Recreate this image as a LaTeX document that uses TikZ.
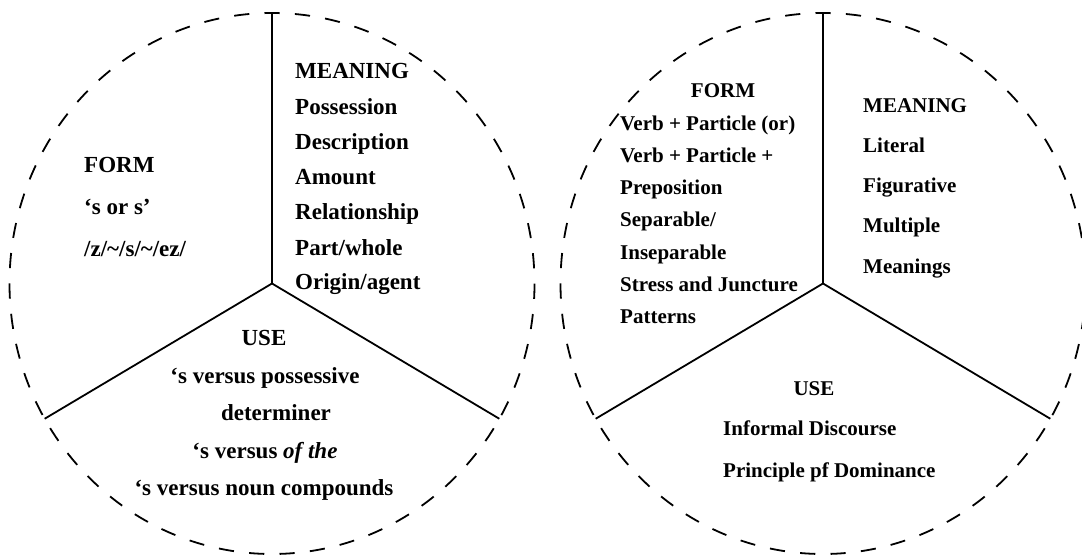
\documentclass[tikz,border=0pt]{standalone}
\usepackage{fontspec}
\setmainfont{Liberation Serif}
\usetikzlibrary{calc}
\begin{document}
\begin{tikzpicture}[x=1pt,y=-1pt,
  ring/.style={line width=1.8pt, dash pattern=on 15.2pt off 15.25pt, dash phase=15.3pt},
  spoke/.style={line width=1.8pt},
  lt/.style={font=\fontsize{23}{23}\selectfont\bfseries, inner sep=0pt, anchor=base west},
  lc/.style={font=\fontsize{23}{23}\selectfont\bfseries, inner sep=0pt, anchor=base},
  rt/.style={font=\fontsize{21}{21}\selectfont\bfseries, inner sep=0pt, anchor=base west},
  rc/.style={font=\fontsize{21}{21}\selectfont\bfseries, inner sep=0pt, anchor=base}]
\useasboundingbox (0,0) rectangle (1082,556);
% left diagram
\coordinate (Lc) at (272,283.5);
\coordinate (Lt) at ($(Lc)+(90:262.5pt and 270.5pt)$);
\coordinate (Ll) at ($(Lc)+(210:262.5pt and 270.5pt)$);
\coordinate (Lr) at ($(Lc)+(330:262.5pt and 270.5pt)$);
\draw[ring] (Lc) ellipse [x radius=262.5pt, y radius=270.5pt];
\draw[spoke] (Lc) -- (Lt);
\draw[spoke] (Lc) -- (Ll);
\draw[spoke] (Lc) -- (Lr);
\node[lt] (lf1) at (84,173) {FORM};
\node[lt] (lf2) at (84,215) {‘s or s’};
\node[lt] (lf3) at (84,257) {/z/\textasciitilde/s/\textasciitilde/ez/};
\node[lt] (lm1) at (295,79) {MEANING};
\node[lt] (lm2) at (295,115) {Possession};
\node[lt] (lm3) at (295,150) {Description};
\node[lt] (lm4) at (295,185) {Amount};
\node[lt] (lm5) at (295,220) {Relationship};
\node[lt] (lm6) at (295,255) {Part/whole};
\node[lt] (lm7) at (295,290) {Origin/agent};
\node[lc] (lu1) at (264,345) {USE};
\node[lc] (lu2) at (265,383) {‘s versus possessive};
\node[lc] (lu3) at (276,420) {determiner};
\node[lc] (lu4) at (265,458) {‘s versus \textit{of the}};
\node[lc] (lu5) at (264,495) {‘s versus noun compounds};
% right diagram
\coordinate (Rc) at (823,283.5);
\coordinate (Rt) at ($(Rc)+(90:262.5pt and 270.5pt)$);
\coordinate (Rl) at ($(Rc)+(210:262.5pt and 270.5pt)$);
\coordinate (Rr) at ($(Rc)+(330:262.5pt and 270.5pt)$);
\draw[ring] (Rc) ellipse [x radius=262.5pt, y radius=270.5pt];
\draw[spoke] (Rc) -- (Rt);
\draw[spoke] (Rc) -- (Rl);
\draw[spoke] (Rc) -- (Rr);
\node[rc] (rf1) at (723,98) {FORM};
\node[rt] (rf2) at (620,131) {Verb + Particle (or)};
\node[rt] (rf3) at (620,163) {Verb + Particle +};
\node[rt] (rf4) at (620,195) {Preposition};
\node[rt] (rf5) at (620,227) {Separable/};
\node[rt] (rf6) at (620,259) {Inseparable};
\node[rt] (rf7) at (620,291) {Stress and Juncture};
\node[rt] (rf8) at (620,323) {Patterns};
\node[rt] (rm1) at (863,113) {MEANING};
\node[rt] (rm2) at (863,153) {Literal};
\node[rt] (rm3) at (863,193) {Figurative};
\node[rt] (rm4) at (863,233) {Multiple};
\node[rt] (rm5) at (863,273) {Meanings};
\node[rc] (ru1) at (814,395) {USE};
\node[rt] (ru2) at (723,435) {Informal Discourse};
\node[rt] (ru3) at (723,477) {Principle pf Dominance};
\end{tikzpicture}
\end{document}
